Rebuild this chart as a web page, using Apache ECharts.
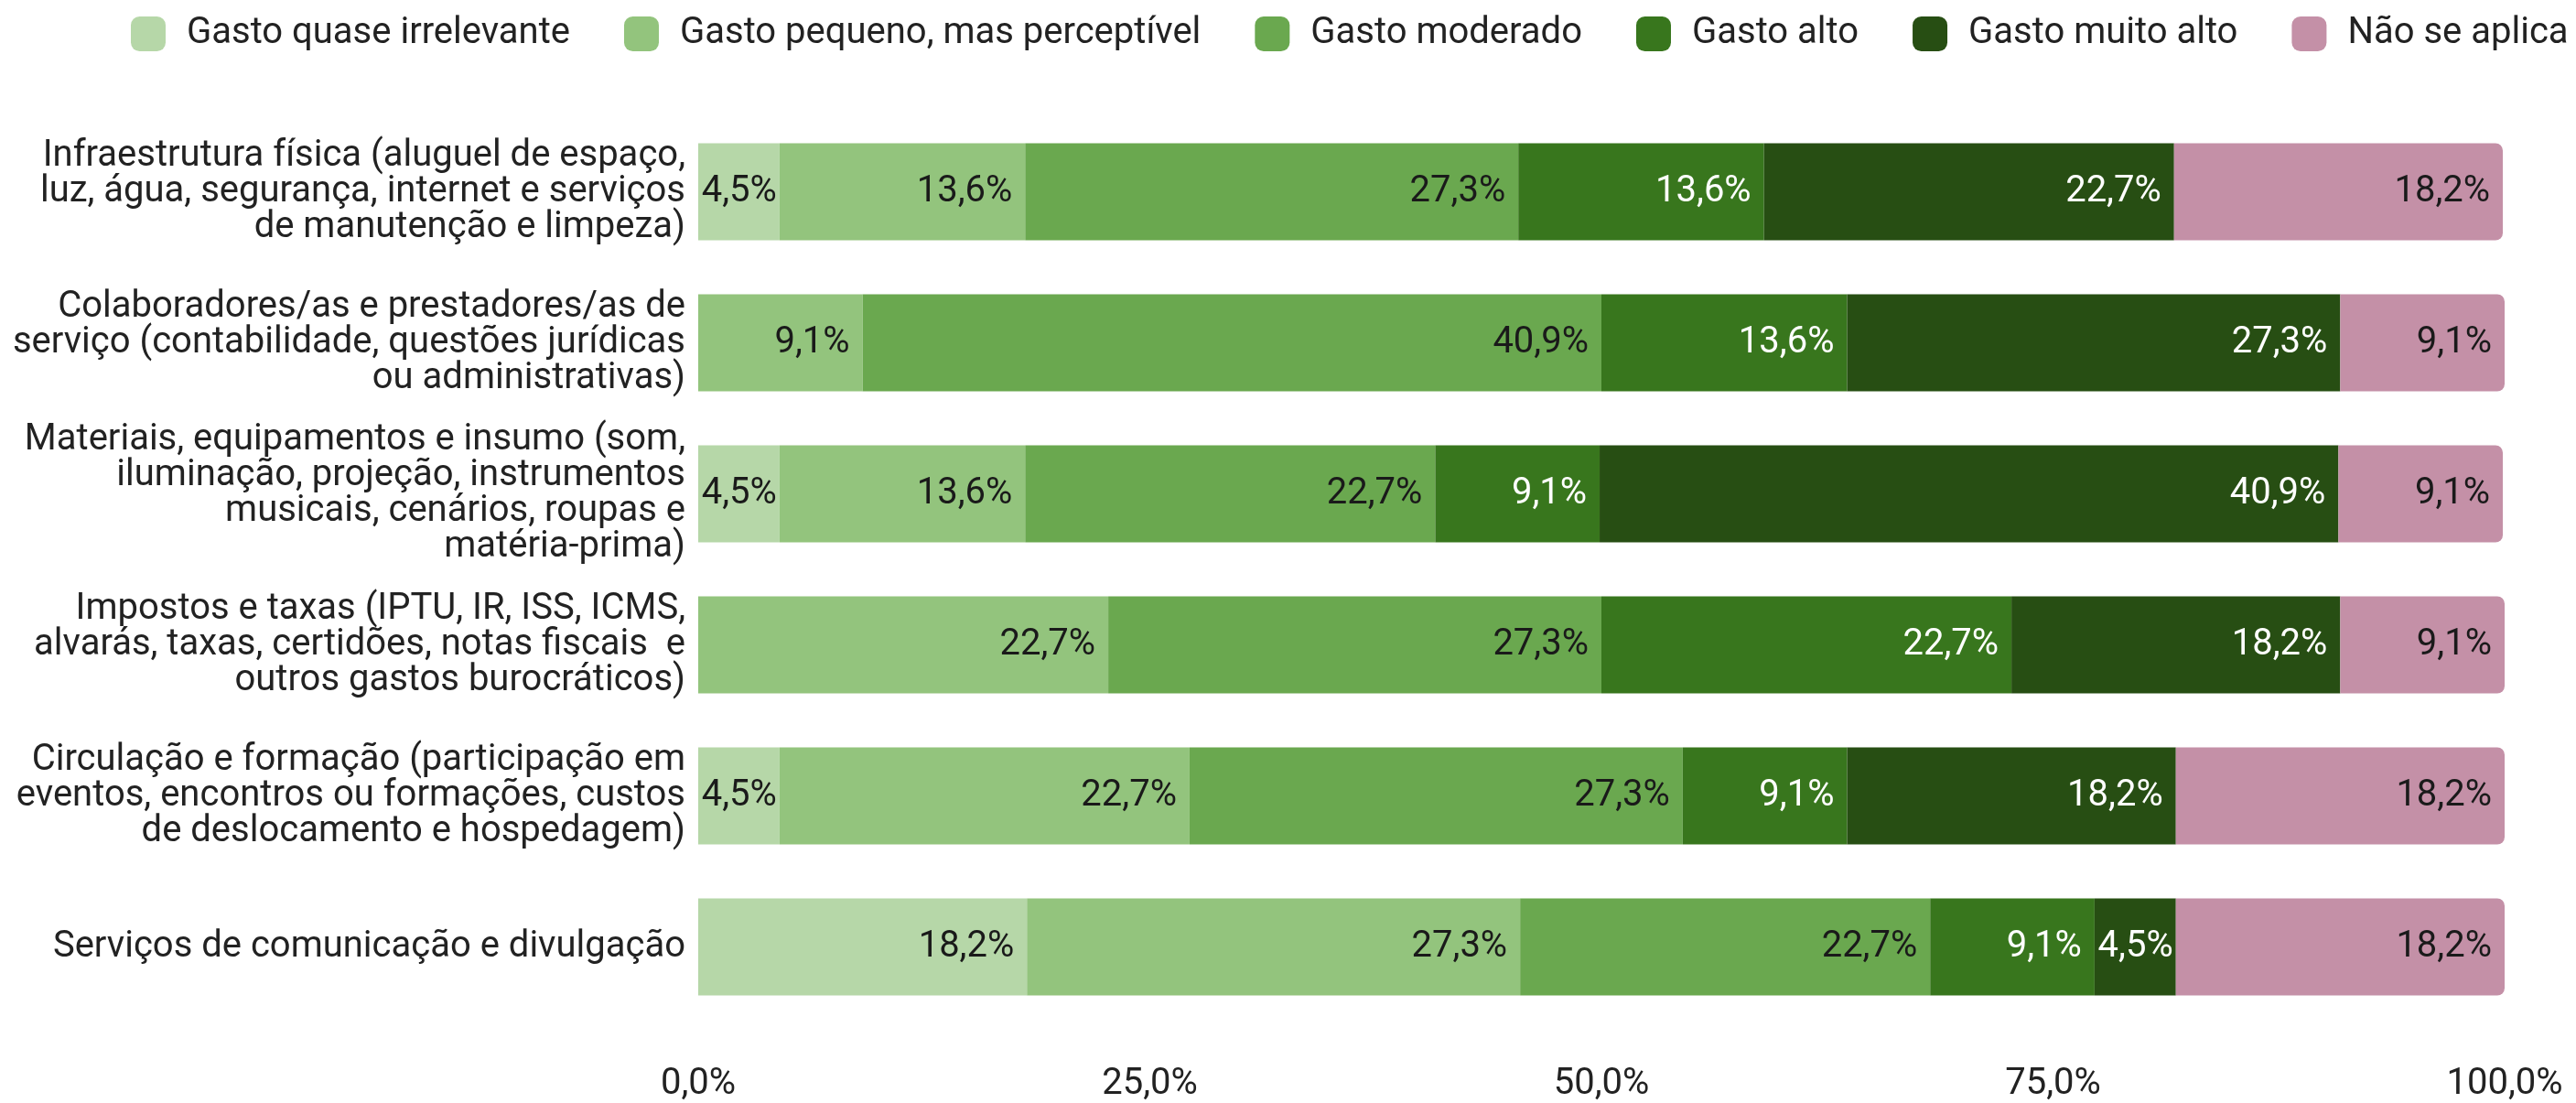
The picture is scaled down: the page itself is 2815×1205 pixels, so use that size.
<!DOCTYPE html>
<html>
<head>
<meta charset="utf-8">
<script src="https://cdn.jsdelivr.net/npm/echarts@6/dist/echarts.min.js"></script>
<style>
  html, body { margin: 0; padding: 0; background: #fff; }
  #chart { width: 2815px; height: 1205px; }
</style>
</head>
<body>
<div id="chart"></div>
<script>
// categorias (de cima para baixo)
const categories = [
  'Infraestrutura física (aluguel de espaço,\nluz, água, segurança, internet e serviços\nde manutenção e limpeza)',
  'Colaboradores/as e prestadores/as de\nserviço (contabilidade, questões jurídicas\nou administrativas)',
  'Materiais, equipamentos e insumo (som,\niluminação, projeção, instrumentos\nmusicais, cenários, roupas e\nmatéria-prima)',
  'Impostos e taxas (IPTU, IR, ISS, ICMS,\nalvarás, taxas, certidões, notas fiscais  e\noutros gastos burocráticos)',
  'Circulação e formação (participação em\neventos, encontros ou formações, custos\nde deslocamento e hospedagem)',
  'Serviços de comunicação e divulgação'
];
const seriesNames = ['Gasto quase irrelevante', 'Gasto pequeno, mas perceptível', 'Gasto moderado', 'Gasto alto', 'Gasto muito alto', 'Não se aplica'];
const irrelevante = [4.5, 0, 4.5, 0, 4.5, 18.2];
const pequeno     = [13.6, 9.1, 13.6, 22.7, 22.7, 27.3];
const moderado    = [27.3, 40.9, 22.7, 27.3, 27.3, 22.7];
const alto        = [13.6, 13.6, 9.1, 22.7, 9.1, 9.1];
const muitoAlto   = [22.7, 27.3, 40.9, 18.2, 18.2, 4.5];
const naoSeAplica = [18.2, 9.1, 9.1, 9.1, 18.2, 18.2];
const xTicks = [0, 25, 50, 75, 100];

const colors = ['#b6d7a8', '#93c47d', '#6aa84f', '#38761d', '#274e13', '#c490a7'];
const labelColors = ['#1a1a1a', '#1a1a1a', '#1a1a1a', '#ffffff', '#ffffff', '#1a1a1a'];
const allData = [irrelevante, pequeno, moderado, alto, muitoAlto, naoSeAplica];

const FONT = 'Roboto';
const fmt = v => v.toFixed(1).replace('.', ',') + '%';

const ec = echarts.init(document.getElementById('chart'));

let series = allData.map((d, i) => ({
  name: seriesNames[i],
  type: 'bar',
  stack: 'total',
  barWidth: 106,
  // segmentos estreitos: rótulo mais colado na borda
  data: d.map(v => v < 5 ? { value: v, label: { distance: 3 } } : v),
  itemStyle: {
    color: colors[i],
    borderRadius: i === 5 ? [0, 8, 8, 0] : 0
  },
  label: {
    show: true,
    position: 'insideRight',
    distance: 14,
    color: labelColors[i],
    fontFamily: FONT,
    fontSize: 40,
    formatter: p => p.value > 0 ? fmt(p.value) : ''
  }
}));

ec.setOption({
  animation: false,
  color: colors,
  legend: {
    left: 138,
    top: 12,
    itemWidth: 38,
    itemHeight: 38,
    itemGap: 59,
    icon: 'roundRect',
    textStyle: { fontFamily: FONT, fontSize: 40, color: '#222', padding: [0, 0, 0, 18] },
    data: seriesNames
  },
  grid: { left: 763, right: 78, top: 127, bottom: 86 },
  xAxis: {
    type: 'value',
    min: 0,
    max: 100,
    interval: 25,
    axisLine: { show: false },
    axisTick: { show: false },
    splitLine: { show: false },
    axisLabel: {
      fontFamily: FONT,
      fontSize: 40,
      color: '#222',
      margin: 48,
      formatter: v => xTicks.includes(v) ? fmt(v) : ''
    }
  },
  yAxis: {
    type: 'category',
    inverse: true,
    data: categories,
    axisLine: { show: false },
    axisTick: { show: false },
    axisLabel: {
      fontFamily: FONT,
      fontSize: 40,
      lineHeight: 39,
      color: '#222',
      align: 'right',
      margin: 14
    }
  },
  series: series
});
</script>
</body>
</html>
